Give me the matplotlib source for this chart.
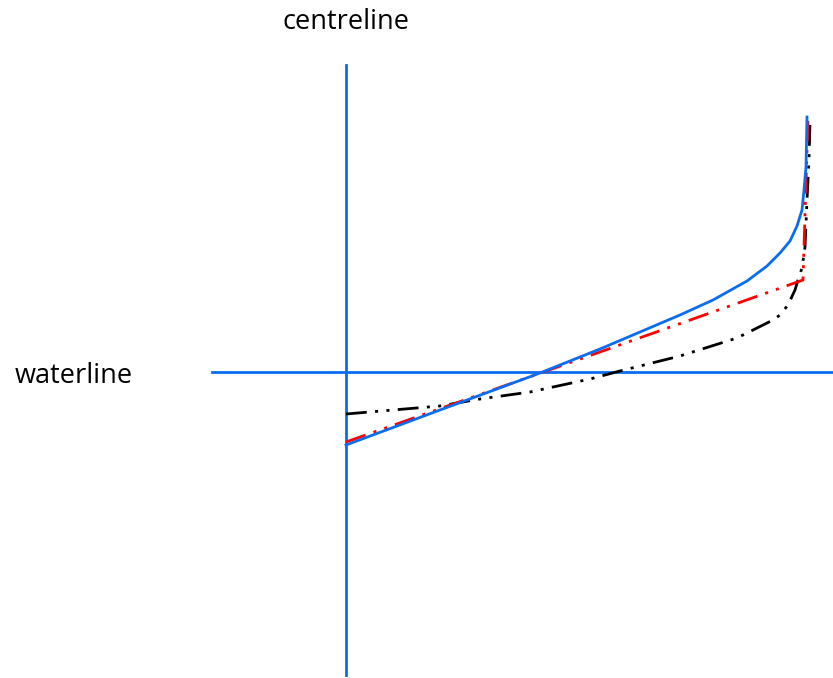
import matplotlib
matplotlib.use('Agg')
import matplotlib.pyplot as plt

# coordinates: x = distance out from centreline, y = height above waterline
blue_x = [0, 94, 194, 254, 334, 367, 401, 421, 434, 444, 451, 456, 458, 460, 461]
blue_y = [-73, -38, -1, 23, 57, 72, 91, 106, 119, 131, 146, 162, 182, 205, 255]

red_x = [0, 457, 462]
red_y = [-70, 92, 254]

black_x = [0, 94, 134, 184, 244, 274, 334, 391, 427, 434, 442, 449, 452, 456, 459, 461, 463, 464]
black_y = [-42, -34, -27, -20, -7, 1, 16, 34, 52, 57, 67, 82, 92, 104, 125, 172, 212, 250]

axis_blue = '#0a6cf0'
dash_dot_dot = (7.5, 3, 1.1, 3, 1.1, 3)

fig = plt.figure(figsize=(8.33, 6.78), dpi=100)
ax = fig.add_axes([0, 0, 1, 1])
ax.set_xlim(-346, 487)
ax.set_ylim(-306, 372)
ax.axis('off')

# centreline and waterline
ax.plot([0, 0], [-303, 307], color=axis_blue, lw=2)
ax.plot([-134, 487], [0, 0], color=axis_blue, lw=2)

ax.plot(black_x, black_y, color='black', lw=2, dashes=dash_dot_dot)
ax.plot(red_x, red_y, color='red', lw=2, dashes=dash_dot_dot)
ax.plot(blue_x, blue_y, color=axis_blue, lw=2)

ax.text(0, 350, 'centreline', fontsize=19.5, family='Open Sans', ha='center', va='center')
ax.text(-331, -4, 'waterline', fontsize=19.5, family='Open Sans', ha='left', va='center')

plt.savefig('out.png', dpi=100)
